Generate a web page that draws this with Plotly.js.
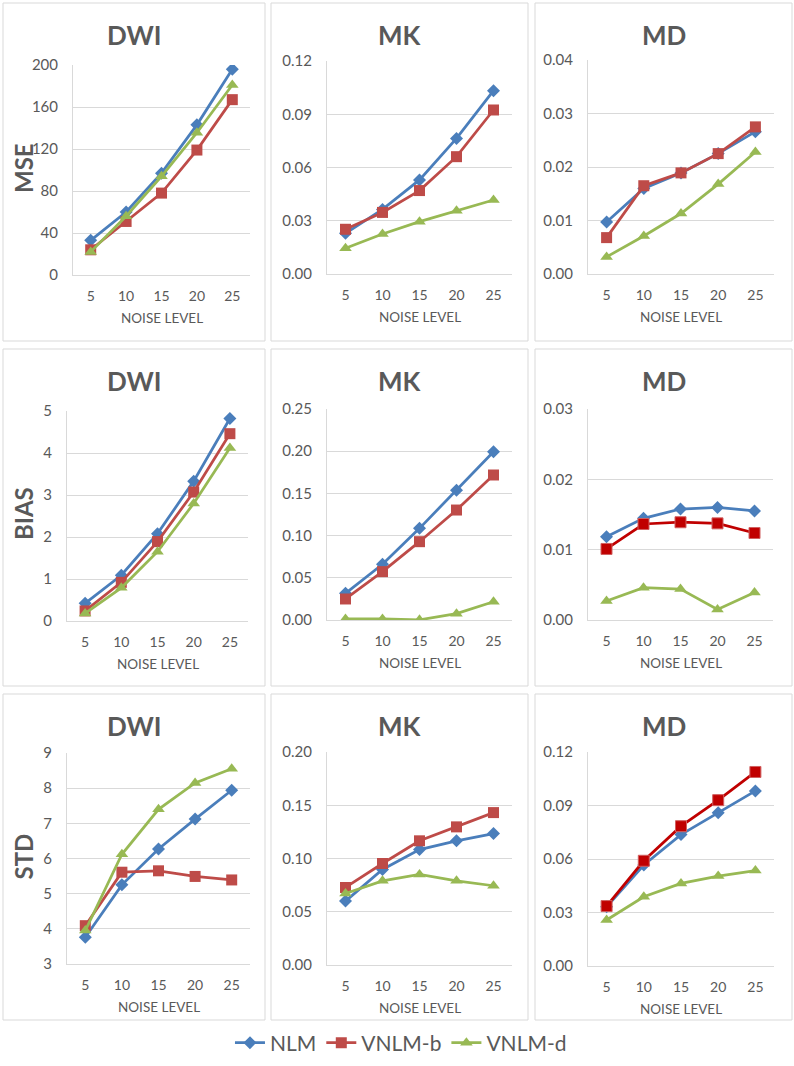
<!DOCTYPE html>
<html>
<head>
<meta charset="utf-8">
<script src="https://cdn.plot.ly/plotly-3.0.1.min.js"></script>
<style>html,body{margin:0;padding:0;background:#fff;}#chart{width:794px;height:1066px;}</style>
</head>
<body>
<div id="chart"></div>
<script>
// ---- data ----
const noiseLevels = ['5', '10', '15', '20', '25'];
const seriesNames = ['NLM', 'VNLM-b', 'VNLM-d'];
const panelTitles = ['DWI', 'MK', 'MD'];
const rowTitles = ['MSE', 'BIAS', 'STD'];
const xAxisLabel = 'NOISE LEVEL';

// MSE
const mseDwiNLM   = [33, 60, 97, 143, 196];
const mseDwiVNLMb = [24, 51, 78, 119, 167];
const mseDwiVNLMd = [22, 56, 94, 135.5, 181];
const mseMkNLM    = [0.0229, 0.0364, 0.0530, 0.0764, 0.1033];
const mseMkVNLMb  = [0.0252, 0.0347, 0.0470, 0.0661, 0.0924];
const mseMkVNLMd  = [0.0145, 0.0225, 0.0295, 0.0357, 0.0417];
const mseMdNLM    = [0.0097, 0.0160, 0.0189, 0.0225, 0.0266];
const mseMdVNLMb  = [0.0068, 0.0165, 0.0189, 0.0225, 0.0275];
const mseMdVNLMd  = [0.0032, 0.0071, 0.0113, 0.0168, 0.0228];
// BIAS
const biasDwiNLM   = [0.42, 1.09, 2.08, 3.33, 4.82];
const biasDwiVNLMb = [0.24, 0.92, 1.89, 3.07, 4.46];
const biasDwiVNLMd = [0.18, 0.79, 1.65, 2.80, 4.12];
const biasMkNLM    = [0.0316, 0.0660, 0.1086, 0.1536, 0.1994];
const biasMkVNLMb  = [0.0249, 0.0573, 0.0928, 0.1303, 0.1718];
const biasMkVNLMd  = [0.0012, 0.0012, 0.0002, 0.0075, 0.0217];
const biasMdNLM    = [0.01185, 0.01445, 0.01578, 0.0160, 0.0155];
const biasMdVNLMb  = [0.0101, 0.01365, 0.0139, 0.01374, 0.01237];
const biasMdVNLMd  = [0.0027, 0.0046, 0.0044, 0.0015, 0.0039];
// STD
const stdDwiNLM   = [3.76, 5.25, 6.27, 7.12, 7.94];
const stdDwiVNLMb = [4.09, 5.61, 5.65, 5.49, 5.39];
const stdDwiVNLMd = [3.95, 6.12, 7.40, 8.15, 8.55];
const stdMkNLM    = [0.0600, 0.0897, 0.1084, 0.1166, 0.1234];
const stdMkVNLMb  = [0.0728, 0.0953, 0.1166, 0.1297, 0.1431];
const stdMkVNLMd  = [0.0672, 0.0790, 0.0850, 0.0790, 0.0744];
const stdMdNLM    = [0.0332, 0.0566, 0.0737, 0.0859, 0.0982];
const stdMdVNLMb  = [0.0336, 0.0590, 0.0784, 0.0930, 0.1088];
const stdMdVNLMd  = [0.0258, 0.0388, 0.0463, 0.0504, 0.0535];

const panelData = [
  [mseDwiNLM, mseDwiVNLMb, mseDwiVNLMd],
  [mseMkNLM, mseMkVNLMb, mseMkVNLMd],
  [mseMdNLM, mseMdVNLMb, mseMdVNLMd],
  [biasDwiNLM, biasDwiVNLMb, biasDwiVNLMd],
  [biasMkNLM, biasMkVNLMb, biasMkVNLMd],
  [biasMdNLM, biasMdVNLMb, biasMdVNLMd],
  [stdDwiNLM, stdDwiVNLMb, stdDwiVNLMd],
  [stdMkNLM, stdMkVNLMb, stdMkVNLMd],
  [stdMdNLM, stdMdVNLMb, stdMdVNLMd]
];

// ---- styling / layout ----
const W = 794, H = 1066;
const px = v => v / W;
const py = v => 1 - v / H;
const textColor = '#595959';
const gridColor = '#D9D9D9';
const FONT = 'Lato, "Open Sans", sans-serif';

const yRanges = [[0,200],[0,0.12],[0,0.04],[0,5],[0,0.25],[0,0.03],[3,9],[0,0.2],[0,0.12]];
const yDticks = [40,0.03,0.01,1,0.05,0.01,1,0.05,0.03];
const yFormats = ['d','.2f','.2f','d','.2f','.2f','d','.2f','.2f'];

// plot areas in pixels [x0,x1,y0(top),y1(bottom)]
const areas = [
  [73,250,65,275],[327,512,61,274],[588,774,60,274],
  [67,248,411,621],[327,512,409,620],[588,773,409,620],
  [67,250,753,964],[327,512,752,965],[588,774,752,966]
];
const panelBoxes = [
  [3,265,3,341],[271,528,3,341],[535,792,3,341],
  [3,265,349,686],[271,528,349,686],[535,792,349,686],
  [3,265,694,1020],[271,528,694,1020],[535,792,694,1020]
];

const lineColors = ['#4A7EBB', '#BE4B48', '#98B954'];
const redDark = '#C00000';
const symbols = ['diamond', 'square', 'triangle-up'];
const msizes = [10, 11, 11];

const traces = [];
const layout = {
  width: W, height: H,
  margin: {l:0, r:0, t:0, b:0},
  paper_bgcolor: '#ffffff', plot_bgcolor: '#ffffff',
  font: {family: FONT, color: textColor},
  showlegend: true,
  legend: {orientation: 'h', x: 0.505, xanchor: 'center', y: py(1043), yanchor: 'middle',
           font: {size: 21, color: textColor, family: FONT}, itemwidth: 30, tracegroupgap: 0},
  shapes: [], annotations: []
};

for (let p = 0; p < 9; p++) {
  const idx = p === 0 ? '' : String(p + 1);
  const a = areas[p];
  layout['xaxis' + idx] = {
    domain: [px(a[0]), px(a[1])], anchor: 'y' + idx, type: 'category',
    range: [-0.5, 4.5], showgrid: false, zeroline: false,
    showline: true, linecolor: gridColor, linewidth: 1,
    ticks: '', tickfont: {size: 14, color: textColor, family: FONT}, ticklabelstandoff: 8,
    fixedrange: true
  };
  layout['yaxis' + idx] = {
    domain: [py(a[3]), py(a[2])], anchor: 'x' + idx,
    range: yRanges[p], dtick: yDticks[p], tick0: yRanges[p][0], tickformat: yFormats[p],
    showgrid: true, gridcolor: gridColor, gridwidth: 1, zeroline: false,
    showline: true, linecolor: gridColor, linewidth: 1,
    ticks: '', tickfont: {size: 15, color: textColor, family: FONT}, ticklabelstandoff: 11,
    fixedrange: true
  };
  const b = panelBoxes[p];
  layout.shapes.push({type: 'rect', xref: 'paper', yref: 'paper',
    x0: px(b[0]), x1: px(b[1]), y0: py(b[3]), y1: py(b[2]),
    line: {color: gridColor, width: 1}, fillcolor: 'rgba(0,0,0,0)', layer: 'below'});
  // panel title
  layout.annotations.push({xref: 'paper', yref: 'paper', x: px((b[0] + b[1]) / 2), y: py(b[2] + 32),
    text: '<b>' + panelTitles[p % 3] + '</b>', showarrow: false, xanchor: 'center', yanchor: 'middle',
    font: {size: 26, color: textColor, family: FONT}});
  // x axis label
  layout.annotations.push({xref: 'paper', yref: 'paper', x: px((a[0] + a[1]) / 2), y: py(a[3] + 43),
    text: xAxisLabel, showarrow: false, xanchor: 'center', yanchor: 'middle',
    font: {size: 13.5, color: textColor, family: FONT}});
  if (p % 3 === 0) {
    layout.annotations.push({xref: 'paper', yref: 'paper', x: px(23), y: py((a[2] + a[3]) / 2 - 2),
      text: '<b>' + rowTitles[p / 3] + '</b>', showarrow: false, textangle: -90,
      xanchor: 'center', yanchor: 'middle', font: {size: 24, color: textColor, family: FONT}});
  }
  for (let s = 0; s < 3; s++) {
    let col = lineColors[s];
    let mline = {color: col, width: 0};
    if (s === 1 && (p === 5 || p === 8)) { col = redDark; mline = {color: '#D06060', width: 1}; }
    traces.push({
      type: 'scatter', mode: 'lines+markers',
      x: noiseLevels, y: panelData[p][s],
      xaxis: 'x' + idx, yaxis: 'y' + idx,
      name: seriesNames[s], legendgroup: seriesNames[s], showlegend: p === 0,
      line: {color: col, width: 2.75},
      marker: {symbol: symbols[s], size: msizes[s], color: col, line: mline},
      hoverinfo: 'skip'
    });
  }
}

Plotly.newPlot('chart', traces, layout, {staticPlot: true});
</script>
</body>
</html>
